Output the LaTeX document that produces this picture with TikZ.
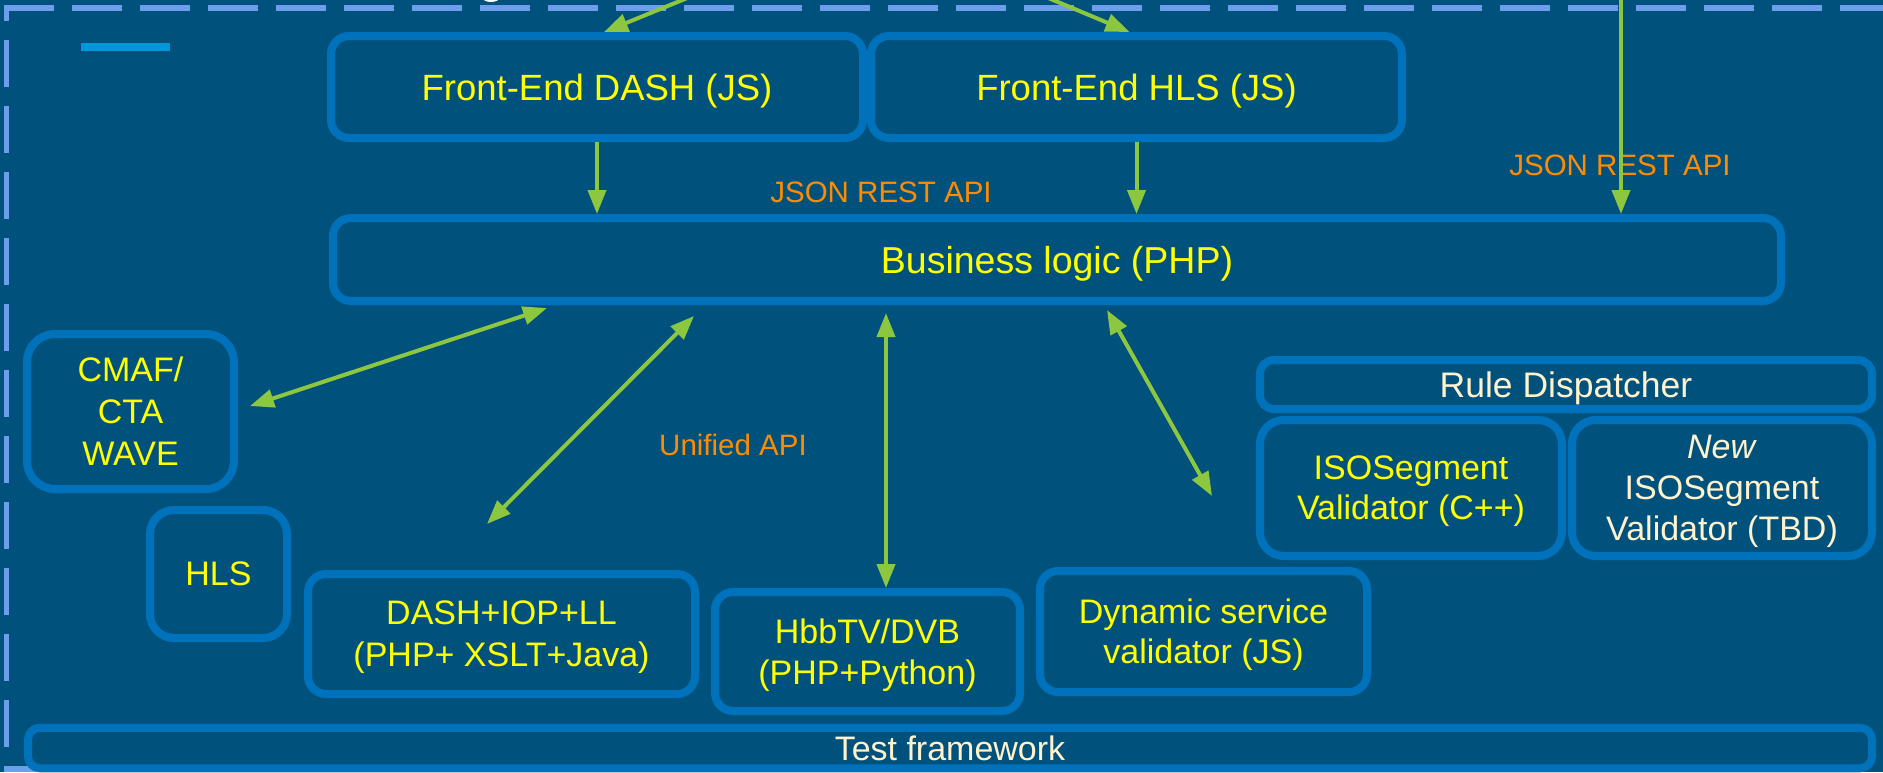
\documentclass[tikz,border=0pt]{standalone}
\usepackage{fontspec}
\setmainfont{Liberation Sans}
\usetikzlibrary{arrows.meta,calc}
\definecolor{bg}{RGB}{0,82,125}
\definecolor{boxblue}{RGB}{0,114,188}
\definecolor{ylw}{RGB}{255,255,0}
\definecolor{cream}{RGB}{255,242,204}
\definecolor{orng}{RGB}{255,140,0}
\definecolor{grn}{RGB}{141,198,63}
\definecolor{dashblue}{RGB}{109,158,235}
\definecolor{barblue}{RGB}{0,152,218}
\begin{document}
\begin{tikzpicture}[x=1pt,y=-1pt,
  box/.style={draw=boxblue, line width=8pt, fill=bg, rounded corners=18pt, align=center, text=ylw, font=\fontsize{34}{41}\selectfont, inner sep=0pt, text depth=0pt},
  lbl/.style={text=orng, font=\fontsize{29.5}{35}\selectfont, inner sep=0pt},
  arr/.style={draw=grn, line width=4pt, -{Triangle[length=24pt,width=18pt]}},
  darr/.style={draw=grn, line width=4pt, {Triangle[length=24pt,width=18pt]}-{Triangle[length=24pt,width=18pt]}},
  dashline/.style={draw=dashblue, line width=5.5pt},
]
\useasboundingbox (0,0) rectangle (1883,772);
\clip (0,0) rectangle (1883,772);
\fill[bg] (0,0) rectangle (1883,772);
% dashed frame
\draw[dashline, dash pattern=on 50pt off 18pt] (4,8) -- (1900,8);
\draw[dashline, dash pattern=on 47pt off 19pt, dash phase=34pt] (6.7,8) -- (6.7,769) -- (120,769);
% cut-off fragment at top
\fill[white] (491,-3) ellipse [x radius=9, y radius=5];
% small bar
\node[fill=barblue, minimum width=89pt, minimum height=8pt, inner sep=0pt] (bar) at (125.5,47) {};
% boxes
\node[box, font=\fontsize{36.5}{42}\selectfont, minimum width=532pt, minimum height=102pt] (fedash) at (597,87) {Front-End DASH (JS)};
\node[box, font=\fontsize{36.5}{42}\selectfont, minimum width=531pt, minimum height=102pt] (fehls) at (1136.5,87) {Front-End HLS (JS)};
\node[box, font=\fontsize{37.5}{43}\selectfont, minimum width=1448pt, minimum height=83pt] (bl) at (1057,259.5) {Business logic (PHP)};
\node[box, font=\fontsize{34}{42}\selectfont, rounded corners=28pt, minimum width=207pt, minimum height=155pt] (cmaf) at (130.5,411.5) {CMAF/\\CTA\\WAVE};
\node[box, rounded corners=24pt, minimum width=137pt, minimum height=128pt] (hls) at (218.5,574) {HLS};
\node[box, font=\fontsize{34}{42}\selectfont, minimum width=387pt, minimum height=120pt] (dashiop) at (501.5,634) {DASH+IOP+LL\\(PHP+ XSLT+Java)};
\node[box, minimum width=305pt, minimum height=119pt] (hbb) at (867.5,651.5) {HbbTV/DVB\\(PHP+Python)};
\node[box, font=\fontsize{34}{40}\selectfont, minimum width=327pt, minimum height=121pt] (dyn) at (1203.5,631.5) {Dynamic service\\validator (JS)};
\node[box, font=\fontsize{35.5}{41}\selectfont, rounded corners=14pt, text=cream, minimum width=612pt, minimum height=49pt] (rule) at (1566,384.5) {Rule Dispatcher};
\node[box, font=\fontsize{34}{40}\selectfont, rounded corners=24pt, minimum width=302pt, minimum height=136pt] (iso) at (1411,488) {ISOSegment\\Validator (C++)};
\node[box, rounded corners=24pt, text=cream, minimum width=300pt, minimum height=136pt] (newiso) at (1722,488) {\textit{New}\\ISOSegment\\Validator (TBD)};
\node[box, rounded corners=12pt, text=cream, minimum width=1844pt, minimum height=40.5pt] (test) at (950,748) {Test framework};
% labels
\node[lbl] (jsonmid) at (881,192) {JSON REST API};
\node[lbl] (jsonright) at (1620,165) {JSON REST API};
\node[lbl] (unified) at (733,445) {Unified API};
% arrows
\coordinate (t1) at (702,-8);
\coordinate (t2) at (1034,-8);
\coordinate (t3) at (1621,-8);
\draw[arr] (t1) -- ([xshift=7pt]fedash.north);
\draw[arr] (t2) -- ([xshift=-7pt]fehls.north);
\draw[arr] (t3) -- (t3 |- bl.north);
\draw[arr] (fedash.south) -- (fedash.south |- bl.north);
\draw[arr] (fehls.south) -- (fehls.south |- bl.north);
\draw[darr] ($(bl.south west)+(218,3)$) -- ($(cmaf.east)+(12,-5.5)$);
\draw[darr] ($(bl.south west)+(365,11)$) -- ($(dashiop.north)+(-14.5,-46)$);
\draw[darr] ($(bl.south west)+(557,8)$) -- ($(hbb.north)+(18.5,0)$);
\draw[darr] ($(bl.south west)+(778,5)$) -- ($(dyn.north)+(8.5,-71)$);
\end{tikzpicture}
\end{document}
